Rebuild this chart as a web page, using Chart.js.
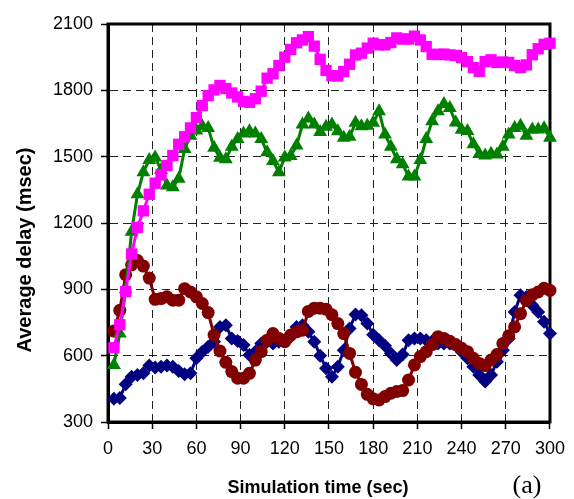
<!DOCTYPE html>
<html>
<head>
<meta charset="utf-8">
<script src="https://cdn.jsdelivr.net/npm/chart.js@4.4.1/dist/chart.umd.min.js"></script>
<style>
  html, body { margin: 0; padding: 0; background: #fff; }
  #wrap { width: 574px; height: 499px; }
</style>
</head>
<body>
<div id="wrap"><canvas id="delayChart" width="574" height="499"></canvas></div>
<script>
// simulation time (sec)
const time = [
  4, 8, 12, 16, 20, 24, 28, 32, 36, 40,
  44, 48, 52, 56, 60, 64, 68, 72, 76, 80,
  84, 88, 92, 96, 100, 104, 108, 112, 116, 120,
  124, 128, 132, 136, 140, 144, 148, 152, 156, 160,
  164, 168, 172, 176, 180, 184, 188, 192, 196, 200,
  204, 208, 212, 216, 220, 224, 228, 232, 236, 240,
  244, 248, 252, 256, 260, 264, 268, 272, 276, 280,
  284, 288, 292, 296, 300
];

// average delay (msec), one list per marker
const squares = [
  636, 740, 890, 1060, 1180, 1255, 1330, 1380, 1418, 1460,
  1505, 1556, 1590, 1630, 1677, 1731, 1776, 1802, 1822, 1808,
  1788, 1770, 1750, 1746, 1762, 1796, 1855, 1875, 1912, 1950,
  1985, 2015, 2028, 2043, 2000, 1940, 1890, 1866, 1865, 1885,
  1918, 1960, 1968, 1991, 2013, 2006, 2006, 2016, 2037, 2032,
  2032, 2045, 2028, 1998, 1963, 1962, 1964, 1960, 1958, 1948,
  1930, 1903, 1886, 1930, 1938, 1926, 1928, 1926, 1912, 1903,
  1915, 1961, 1988, 2008, 2013
];
const triangles = [
  558, 700, 900, 1160, 1330, 1430, 1485, 1496, 1440, 1370,
  1362, 1400, 1535, 1595, 1618, 1638, 1630, 1540, 1495, 1488,
  1545, 1580, 1605, 1615, 1605, 1580, 1520, 1480, 1430, 1496,
  1503, 1550, 1645, 1673, 1645, 1612, 1635, 1645, 1615, 1585,
  1590, 1653, 1638, 1640, 1653, 1705, 1600, 1545, 1488, 1466,
  1410, 1410, 1485, 1580, 1660, 1705, 1738, 1720, 1655, 1622,
  1616, 1556, 1512, 1505, 1513, 1510, 1545, 1600, 1630, 1640,
  1595, 1623, 1623, 1628, 1586
];
const circles = [
  711, 805, 966, 1011, 1030, 1005, 951, 855, 858, 866,
  851, 851, 903, 888, 866, 836, 795, 693, 621, 570,
  528, 498, 498, 520, 580, 618, 670, 700, 678, 663,
  693, 708, 715, 800, 815, 815, 810, 785, 745, 700,
  610, 525, 470, 425, 405, 400, 415, 430, 438, 442,
  490, 558, 596, 618, 650, 685, 678, 665, 650, 633,
  618, 588, 565, 555, 580, 605, 655, 690, 730, 790,
  850, 875, 888, 905, 895
];
const diamonds = [
  405, 408, 471, 505, 513, 520, 555, 546, 550, 555,
  550, 531, 516, 520, 588, 618, 640, 663, 730, 738,
  678, 666, 648, 603, 618, 655, 663, 655, 663, 670,
  685, 730, 738, 708, 663, 600, 543, 505, 550, 625,
  723, 786, 783, 745, 695, 670, 645, 610, 580, 605,
  670, 678, 678, 670, 665, 655, 655, 655, 648, 618,
  588, 550, 513, 483, 513, 573, 625, 678, 798, 873,
  865, 828, 798, 753, 700
];

const xTitle = 'Simulation time (sec)';
const yTitle = 'Average delay (msec)';
const panelLabel = '(a)';

function pts(values) {
  return values.map((v, i) => ({ x: time[i], y: v }));
}

function series(values, color, style, radius, order) {
  return {
    data: pts(values),
    borderColor: color,
    backgroundColor: color,
    borderWidth: 3,
    pointStyle: style,
    pointRadius: radius,
    pointBorderWidth: 0,
    pointBackgroundColor: color,
    tension: 0,
    clip: false,
    order: order
  };
}

// box round the plot, titles and panel letter
const framePlugin = {
  id: 'framePlugin',
  beforeDatasetsDraw(chart) {
    const a = chart.chartArea;
    const ctx = chart.ctx;
    ctx.save();
    ctx.strokeStyle = '#000';
    ctx.lineWidth = 3;
    ctx.strokeRect(a.left, a.top, a.right - a.left, a.bottom - a.top);
    ctx.restore();
  },
  afterDraw(chart) {
    const ctx = chart.ctx;
    ctx.save();
    ctx.fillStyle = '#000';
    ctx.textBaseline = 'middle';
    ctx.textAlign = 'center';
    ctx.font = 'bold 18px "Liberation Sans", Arial, sans-serif';
    ctx.fillText(xTitle, 318, 488);
    ctx.font = '26px "Liberation Serif", "Times New Roman", serif';
    ctx.fillText(panelLabel, 527, 486);
    ctx.translate(25, 250);
    ctx.rotate(-Math.PI / 2);
    ctx.font = 'bold 20px "Liberation Sans", Arial, sans-serif';
    ctx.fillText(yTitle, 0, 0);
    ctx.restore();
  }
};

const gridDash = [8, 5];
const tickFont = { family: '"Liberation Sans", Arial, sans-serif', size: 18 };
const plain = v => String(v);

new Chart(document.getElementById('delayChart').getContext('2d'), {
  type: 'line',
  data: {
    datasets: [
      series(squares, '#FF00FF', 'rect', 8, 1),
      series(triangles, '#008000', 'triangle', 8, 2),
      series(circles, '#800000', 'circle', 6.5, 3),
      series(diamonds, '#000080', 'rectRot', 7, 4)
    ]
  },
  options: {
    responsive: false,
    animation: false,
    devicePixelRatio: 1,
    layout: { padding: { top: 24, right: 18, left: 0, bottom: 0 } },
    plugins: { legend: { display: false }, tooltip: { enabled: false } },
    scales: {
      x: {
        type: 'linear',
        min: 0,
        max: 300,
        afterFit: s => { s.height = 77; },
        ticks: { stepSize: 30, color: '#000', font: tickFont, padding: 9, maxRotation: 0, callback: plain },
        grid: { color: '#222', lineWidth: 1, tickLength: 7, tickColor: '#000', tickWidth: 1.5 },
        border: { display: true, color: '#000', width: 3, dash: gridDash }
      },
      y: {
        min: 300,
        max: 2100,
        afterFit: s => { s.width = 108; },
        ticks: { stepSize: 300, color: '#000', font: tickFont, padding: 8, callback: plain },
        grid: { color: '#222', lineWidth: 1, tickLength: 7, tickColor: '#000', tickWidth: 1.5 },
        border: { display: true, color: '#000', width: 3, dash: gridDash }
      }
    }
  },
  plugins: [framePlugin]
});
</script>
</body>
</html>
